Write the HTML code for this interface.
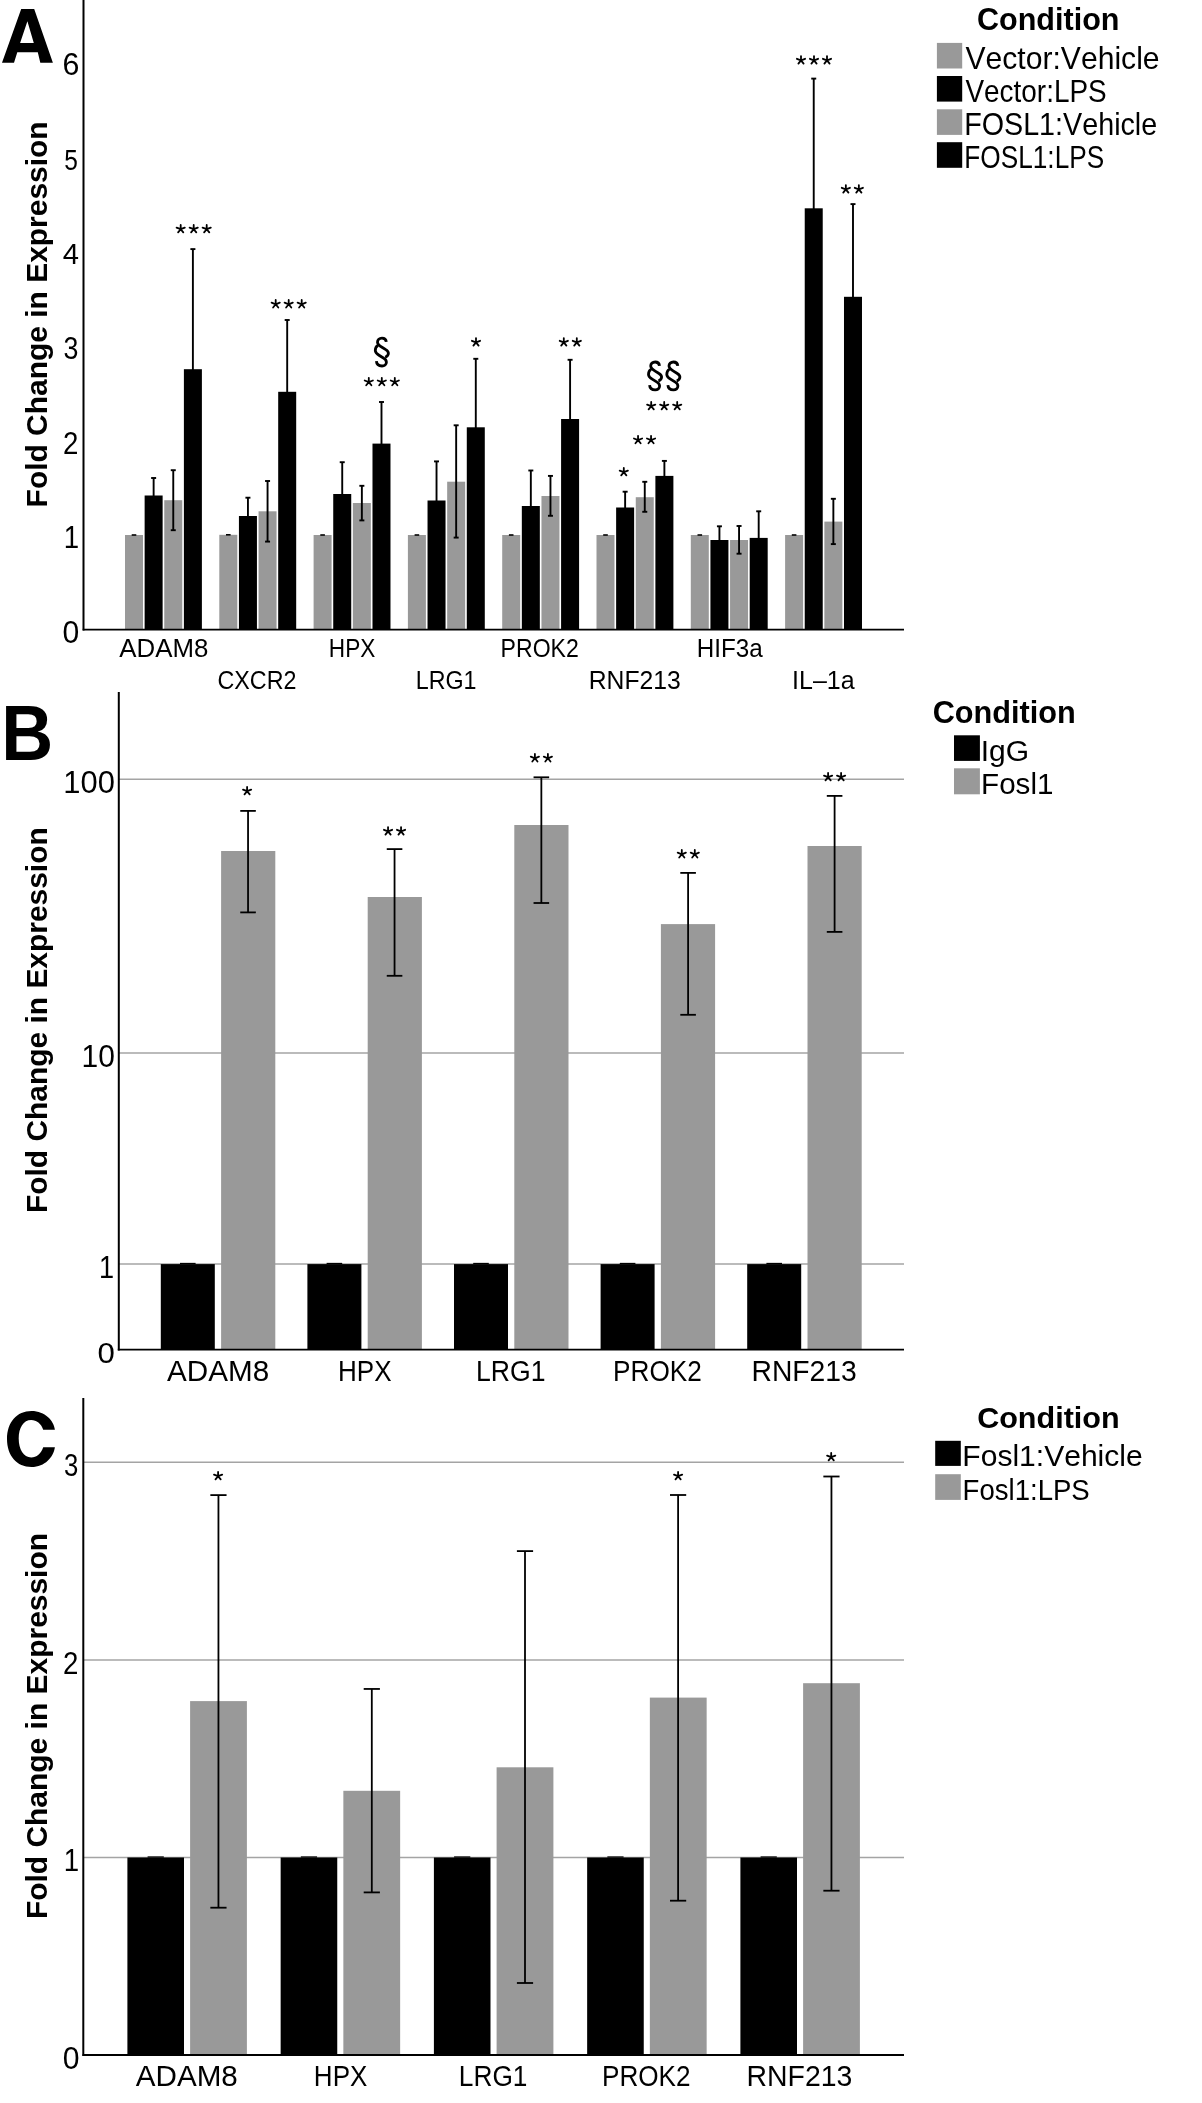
<!DOCTYPE html><html><head><meta charset="utf-8"><title>Fold change</title><style>html,body{margin:0;padding:0;background:#fff;width:1202px;height:2103px;overflow:hidden}text{font-family:"Liberation Sans",sans-serif}</style></head><body><svg width="1202" height="2103" viewBox="0 0 1202 2103" style="display:block;filter:grayscale(1);font-family:'Liberation Sans',sans-serif;font-kerning:none"><rect width="1202" height="2103" fill="#fff"/><rect x="125.00" y="535.00" width="18.00" height="94.00" fill="#999999"/><rect x="144.63" y="495.50" width="18.00" height="133.50" fill="#000"/><rect x="164.26" y="500.20" width="18.00" height="128.80" fill="#999999"/><rect x="183.89" y="369.20" width="18.00" height="259.80" fill="#000"/><path d="M131.70 535.00L136.30 535.00" stroke="#000" stroke-width="1.60"/><path d="M153.63 478.00L153.63 500.50" stroke="#000" stroke-width="1.90"/><path d="M151.13 478.00L156.13 478.00" stroke="#000" stroke-width="1.90"/><path d="M151.13 500.50L156.13 500.50" stroke="#000" stroke-width="1.90"/><path d="M173.26 470.20L173.26 530.20" stroke="#000" stroke-width="1.90"/><path d="M170.76 470.20L175.76 470.20" stroke="#000" stroke-width="1.90"/><path d="M170.76 530.20L175.76 530.20" stroke="#000" stroke-width="1.90"/><path d="M192.89 249.10L192.89 374.20" stroke="#000" stroke-width="1.90"/><path d="M190.39 249.10L195.39 249.10" stroke="#000" stroke-width="1.90"/><path d="M190.39 374.20L195.39 374.20" stroke="#000" stroke-width="1.90"/><rect x="219.30" y="534.80" width="18.00" height="94.20" fill="#999999"/><rect x="238.93" y="516.00" width="18.00" height="113.00" fill="#000"/><rect x="258.56" y="511.30" width="18.00" height="117.70" fill="#999999"/><rect x="278.19" y="391.80" width="18.00" height="237.20" fill="#000"/><path d="M226.00 534.80L230.60 534.80" stroke="#000" stroke-width="1.60"/><path d="M247.93 497.70L247.93 521.00" stroke="#000" stroke-width="1.90"/><path d="M245.43 497.70L250.43 497.70" stroke="#000" stroke-width="1.90"/><path d="M245.43 521.00L250.43 521.00" stroke="#000" stroke-width="1.90"/><path d="M267.56 481.00L267.56 541.60" stroke="#000" stroke-width="1.90"/><path d="M265.06 481.00L270.06 481.00" stroke="#000" stroke-width="1.90"/><path d="M265.06 541.60L270.06 541.60" stroke="#000" stroke-width="1.90"/><path d="M287.19 320.00L287.19 396.80" stroke="#000" stroke-width="1.90"/><path d="M284.69 320.00L289.69 320.00" stroke="#000" stroke-width="1.90"/><path d="M284.69 396.80L289.69 396.80" stroke="#000" stroke-width="1.90"/><rect x="313.60" y="535.00" width="18.00" height="94.00" fill="#999999"/><rect x="333.23" y="494.00" width="18.00" height="135.00" fill="#000"/><rect x="352.86" y="503.00" width="18.00" height="126.00" fill="#999999"/><rect x="372.49" y="443.60" width="18.00" height="185.40" fill="#000"/><path d="M320.30 535.00L324.90 535.00" stroke="#000" stroke-width="1.60"/><path d="M342.23 462.20L342.23 499.00" stroke="#000" stroke-width="1.90"/><path d="M339.73 462.20L344.73 462.20" stroke="#000" stroke-width="1.90"/><path d="M339.73 499.00L344.73 499.00" stroke="#000" stroke-width="1.90"/><path d="M361.86 485.80L361.86 520.40" stroke="#000" stroke-width="1.90"/><path d="M359.36 485.80L364.36 485.80" stroke="#000" stroke-width="1.90"/><path d="M359.36 520.40L364.36 520.40" stroke="#000" stroke-width="1.90"/><path d="M381.49 402.00L381.49 448.60" stroke="#000" stroke-width="1.90"/><path d="M378.99 402.00L383.99 402.00" stroke="#000" stroke-width="1.90"/><path d="M378.99 448.60L383.99 448.60" stroke="#000" stroke-width="1.90"/><rect x="407.90" y="535.00" width="18.00" height="94.00" fill="#999999"/><rect x="427.53" y="500.50" width="18.00" height="128.50" fill="#000"/><rect x="447.16" y="481.70" width="18.00" height="147.30" fill="#999999"/><rect x="466.79" y="427.30" width="18.00" height="201.70" fill="#000"/><path d="M414.60 535.00L419.20 535.00" stroke="#000" stroke-width="1.60"/><path d="M436.53 461.40L436.53 505.50" stroke="#000" stroke-width="1.90"/><path d="M434.03 461.40L439.03 461.40" stroke="#000" stroke-width="1.90"/><path d="M434.03 505.50L439.03 505.50" stroke="#000" stroke-width="1.90"/><path d="M456.16 425.30L456.16 537.60" stroke="#000" stroke-width="1.90"/><path d="M453.66 425.30L458.66 425.30" stroke="#000" stroke-width="1.90"/><path d="M453.66 537.60L458.66 537.60" stroke="#000" stroke-width="1.90"/><path d="M475.79 358.80L475.79 432.30" stroke="#000" stroke-width="1.90"/><path d="M473.29 358.80L478.29 358.80" stroke="#000" stroke-width="1.90"/><path d="M473.29 432.30L478.29 432.30" stroke="#000" stroke-width="1.90"/><rect x="502.20" y="535.00" width="18.00" height="94.00" fill="#999999"/><rect x="521.83" y="506.00" width="18.00" height="123.00" fill="#000"/><rect x="541.46" y="496.00" width="18.00" height="133.00" fill="#999999"/><rect x="561.09" y="419.00" width="18.00" height="210.00" fill="#000"/><path d="M508.90 535.00L513.50 535.00" stroke="#000" stroke-width="1.60"/><path d="M530.83 470.50L530.83 511.00" stroke="#000" stroke-width="1.90"/><path d="M528.33 470.50L533.33 470.50" stroke="#000" stroke-width="1.90"/><path d="M528.33 511.00L533.33 511.00" stroke="#000" stroke-width="1.90"/><path d="M550.46 475.90L550.46 515.80" stroke="#000" stroke-width="1.90"/><path d="M547.96 475.90L552.96 475.90" stroke="#000" stroke-width="1.90"/><path d="M547.96 515.80L552.96 515.80" stroke="#000" stroke-width="1.90"/><path d="M570.09 359.80L570.09 424.00" stroke="#000" stroke-width="1.90"/><path d="M567.59 359.80L572.59 359.80" stroke="#000" stroke-width="1.90"/><path d="M567.59 424.00L572.59 424.00" stroke="#000" stroke-width="1.90"/><rect x="596.50" y="535.00" width="18.00" height="94.00" fill="#999999"/><rect x="616.13" y="507.50" width="18.00" height="121.50" fill="#000"/><rect x="635.76" y="497.20" width="18.00" height="131.80" fill="#999999"/><rect x="655.39" y="475.90" width="18.00" height="153.10" fill="#000"/><path d="M603.20 535.00L607.80 535.00" stroke="#000" stroke-width="1.60"/><path d="M625.13 491.70L625.13 512.50" stroke="#000" stroke-width="1.90"/><path d="M622.63 491.70L627.63 491.70" stroke="#000" stroke-width="1.90"/><path d="M622.63 512.50L627.63 512.50" stroke="#000" stroke-width="1.90"/><path d="M644.76 481.80L644.76 511.80" stroke="#000" stroke-width="1.90"/><path d="M642.26 481.80L647.26 481.80" stroke="#000" stroke-width="1.90"/><path d="M642.26 511.80L647.26 511.80" stroke="#000" stroke-width="1.90"/><path d="M664.39 460.90L664.39 480.90" stroke="#000" stroke-width="1.90"/><path d="M661.89 460.90L666.89 460.90" stroke="#000" stroke-width="1.90"/><path d="M661.89 480.90L666.89 480.90" stroke="#000" stroke-width="1.90"/><rect x="690.80" y="535.00" width="18.00" height="94.00" fill="#999999"/><rect x="710.43" y="540.00" width="18.00" height="89.00" fill="#000"/><rect x="730.06" y="540.00" width="18.00" height="89.00" fill="#999999"/><rect x="749.69" y="537.90" width="18.00" height="91.10" fill="#000"/><path d="M697.50 535.00L702.10 535.00" stroke="#000" stroke-width="1.60"/><path d="M719.43 526.30L719.43 545.00" stroke="#000" stroke-width="1.90"/><path d="M716.93 526.30L721.93 526.30" stroke="#000" stroke-width="1.90"/><path d="M716.93 545.00L721.93 545.00" stroke="#000" stroke-width="1.90"/><path d="M739.06 526.00L739.06 553.70" stroke="#000" stroke-width="1.90"/><path d="M736.56 526.00L741.56 526.00" stroke="#000" stroke-width="1.90"/><path d="M736.56 553.70L741.56 553.70" stroke="#000" stroke-width="1.90"/><path d="M758.69 511.30L758.69 542.90" stroke="#000" stroke-width="1.90"/><path d="M756.19 511.30L761.19 511.30" stroke="#000" stroke-width="1.90"/><path d="M756.19 542.90L761.19 542.90" stroke="#000" stroke-width="1.90"/><rect x="785.10" y="535.00" width="18.00" height="94.00" fill="#999999"/><rect x="804.73" y="208.30" width="18.00" height="420.70" fill="#000"/><rect x="824.36" y="521.60" width="18.00" height="107.40" fill="#999999"/><rect x="843.99" y="296.80" width="18.00" height="332.20" fill="#000"/><path d="M791.80 535.00L796.40 535.00" stroke="#000" stroke-width="1.60"/><path d="M813.73 78.60L813.73 213.30" stroke="#000" stroke-width="1.90"/><path d="M811.23 78.60L816.23 78.60" stroke="#000" stroke-width="1.90"/><path d="M811.23 213.30L816.23 213.30" stroke="#000" stroke-width="1.90"/><path d="M833.36 498.80L833.36 544.10" stroke="#000" stroke-width="1.90"/><path d="M830.86 498.80L835.86 498.80" stroke="#000" stroke-width="1.90"/><path d="M830.86 544.10L835.86 544.10" stroke="#000" stroke-width="1.90"/><path d="M852.99 204.10L852.99 301.80" stroke="#000" stroke-width="1.90"/><path d="M850.49 204.10L855.49 204.10" stroke="#000" stroke-width="1.90"/><path d="M850.49 301.80L855.49 301.80" stroke="#000" stroke-width="1.90"/><path d="M83.50 0.00L83.50 630.50" stroke="#000" stroke-width="2.00"/><path d="M82.70 629.60L904.00 629.60" stroke="#000" stroke-width="1.90"/><path d="M119.00 779.30L904.00 779.30" stroke="#a4a4a4" stroke-width="1.50"/><path d="M119.00 1053.10L904.00 1053.10" stroke="#a4a4a4" stroke-width="1.50"/><path d="M119.00 1264.00L904.00 1264.00" stroke="#a4a4a4" stroke-width="1.50"/><rect x="160.80" y="1264.10" width="54.00" height="85.20" fill="#000"/><path d="M180.00 1263.50L195.60 1263.50" stroke="#000" stroke-width="1.30"/><rect x="221.10" y="851.00" width="54.20" height="498.30" fill="#999999"/><path d="M248.05 810.90L248.05 912.40" stroke="#000" stroke-width="1.80"/><path d="M240.25 810.90L255.85 810.90" stroke="#000" stroke-width="1.80"/><path d="M240.25 912.40L255.85 912.40" stroke="#000" stroke-width="1.80"/><rect x="307.40" y="1264.10" width="54.00" height="85.20" fill="#000"/><path d="M326.60 1263.50L342.20 1263.50" stroke="#000" stroke-width="1.30"/><rect x="367.70" y="897.00" width="54.20" height="452.30" fill="#999999"/><path d="M394.55 849.10L394.55 975.80" stroke="#000" stroke-width="1.80"/><path d="M386.75 849.10L402.35 849.10" stroke="#000" stroke-width="1.80"/><path d="M386.75 975.80L402.35 975.80" stroke="#000" stroke-width="1.80"/><rect x="454.00" y="1264.10" width="54.00" height="85.20" fill="#000"/><path d="M473.20 1263.50L488.80 1263.50" stroke="#000" stroke-width="1.30"/><rect x="514.30" y="825.00" width="54.20" height="524.30" fill="#999999"/><path d="M541.35 777.30L541.35 903.00" stroke="#000" stroke-width="1.80"/><path d="M533.55 777.30L549.15 777.30" stroke="#000" stroke-width="1.80"/><path d="M533.55 903.00L549.15 903.00" stroke="#000" stroke-width="1.80"/><rect x="600.60" y="1264.10" width="54.00" height="85.20" fill="#000"/><path d="M619.80 1263.50L635.40 1263.50" stroke="#000" stroke-width="1.30"/><rect x="660.90" y="924.10" width="54.20" height="425.20" fill="#999999"/><path d="M688.10 872.90L688.10 1014.80" stroke="#000" stroke-width="1.80"/><path d="M680.30 872.90L695.90 872.90" stroke="#000" stroke-width="1.80"/><path d="M680.30 1014.80L695.90 1014.80" stroke="#000" stroke-width="1.80"/><rect x="747.20" y="1264.10" width="54.00" height="85.20" fill="#000"/><path d="M766.40 1263.50L782.00 1263.50" stroke="#000" stroke-width="1.30"/><rect x="807.50" y="846.00" width="54.20" height="503.30" fill="#999999"/><path d="M834.60 795.90L834.60 931.90" stroke="#000" stroke-width="1.80"/><path d="M826.80 795.90L842.40 795.90" stroke="#000" stroke-width="1.80"/><path d="M826.80 931.90L842.40 931.90" stroke="#000" stroke-width="1.80"/><path d="M118.80 692.00L118.80 1350.50" stroke="#000" stroke-width="2.00"/><path d="M117.80 1349.60L904.00 1349.60" stroke="#000" stroke-width="1.90"/><path d="M84.00 1462.20L904.00 1462.20" stroke="#a4a4a4" stroke-width="1.50"/><path d="M84.00 1660.00L904.00 1660.00" stroke="#a4a4a4" stroke-width="1.50"/><path d="M84.00 1857.50L904.00 1857.50" stroke="#a4a4a4" stroke-width="1.50"/><rect x="127.40" y="1857.50" width="56.60" height="197.10" fill="#000"/><path d="M147.60 1857.00L163.80 1857.00" stroke="#000" stroke-width="1.30"/><rect x="190.10" y="1701.10" width="56.80" height="353.50" fill="#999999"/><path d="M218.45 1495.10L218.45 1907.70" stroke="#000" stroke-width="1.80"/><path d="M210.35 1495.10L226.55 1495.10" stroke="#000" stroke-width="1.80"/><path d="M210.35 1907.70L226.55 1907.70" stroke="#000" stroke-width="1.80"/><rect x="280.65" y="1857.50" width="56.60" height="197.10" fill="#000"/><path d="M300.85 1857.00L317.05 1857.00" stroke="#000" stroke-width="1.30"/><rect x="343.35" y="1790.80" width="56.80" height="263.80" fill="#999999"/><path d="M371.80 1688.95L371.80 1892.40" stroke="#000" stroke-width="1.80"/><path d="M363.70 1688.95L379.90 1688.95" stroke="#000" stroke-width="1.80"/><path d="M363.70 1892.40L379.90 1892.40" stroke="#000" stroke-width="1.80"/><rect x="433.90" y="1857.50" width="56.60" height="197.10" fill="#000"/><path d="M454.10 1857.00L470.30 1857.00" stroke="#000" stroke-width="1.30"/><rect x="496.60" y="1767.30" width="56.80" height="287.30" fill="#999999"/><path d="M525.00 1551.10L525.00 1983.00" stroke="#000" stroke-width="1.80"/><path d="M516.90 1551.10L533.10 1551.10" stroke="#000" stroke-width="1.80"/><path d="M516.90 1983.00L533.10 1983.00" stroke="#000" stroke-width="1.80"/><rect x="587.15" y="1857.50" width="56.60" height="197.10" fill="#000"/><path d="M607.35 1857.00L623.55 1857.00" stroke="#000" stroke-width="1.30"/><rect x="649.85" y="1697.60" width="56.80" height="357.00" fill="#999999"/><path d="M678.10 1495.00L678.10 1900.70" stroke="#000" stroke-width="1.80"/><path d="M670.00 1495.00L686.20 1495.00" stroke="#000" stroke-width="1.80"/><path d="M670.00 1900.70L686.20 1900.70" stroke="#000" stroke-width="1.80"/><rect x="740.40" y="1857.50" width="56.60" height="197.10" fill="#000"/><path d="M760.60 1857.00L776.80 1857.00" stroke="#000" stroke-width="1.30"/><rect x="803.10" y="1683.20" width="56.80" height="371.40" fill="#999999"/><path d="M831.45 1476.50L831.45 1890.70" stroke="#000" stroke-width="1.80"/><path d="M823.35 1476.50L839.55 1476.50" stroke="#000" stroke-width="1.80"/><path d="M823.35 1890.70L839.55 1890.70" stroke="#000" stroke-width="1.80"/><path d="M83.30 1398.00L83.30 2056.00" stroke="#000" stroke-width="2.00"/><path d="M82.50 2055.00L904.00 2055.00" stroke="#000" stroke-width="1.90"/><path d="M2.0,62.7 L21.2,9.0 L34.2,9.0 L52.9,62.7 L40.3,62.7 L37.8,52.2 L17.3,52.2 L14.0,62.7 Z M27.4,21.2 L20.1,42.9 L33.8,42.9 Z" fill="#000" fill-rule="evenodd"/><path transform="translate(0 1405)" d="M54.9,24.7 C53.8,15.5 45,6 31.5,6 C16.8,6 7,17.2 7,34 C7,50.8 16.8,62 31.5,62 C45,62 53.5,52 54.9,42.2 L43.2,42.2 C41.2,48.5 36.5,52.4 31.2,52.4 C23.5,52.4 18.7,44.5 18.7,33.6 C18.7,22.7 23.5,15 31.2,15 C36.5,15 41.2,18.5 43.2,24.7 Z" fill="#000"/><rect x="936.90" y="42.90" width="25.30" height="25.60" fill="#999999"/><rect x="936.90" y="76.00" width="25.30" height="25.60" fill="#000"/><rect x="936.90" y="109.30" width="25.30" height="25.60" fill="#999999"/><rect x="936.90" y="142.20" width="25.30" height="25.60" fill="#000"/><rect x="954.00" y="735.30" width="25.90" height="25.60" fill="#000"/><rect x="954.00" y="768.30" width="25.90" height="26.00" fill="#999999"/><rect x="935.20" y="1440.80" width="25.60" height="25.10" fill="#000"/><rect x="935.20" y="1474.20" width="25.60" height="25.70" fill="#999999"/><path d="M180.70 229.20L180.70 224.90M180.70 229.20L176.60 227.60M180.70 229.20L184.80 227.60M180.70 229.20L178.10 232.40M180.70 229.20L183.30 232.40" stroke="#000" stroke-width="1.80" stroke-linecap="round" fill="none"/><path d="M193.70 229.20L193.70 224.90M193.70 229.20L189.60 227.60M193.70 229.20L197.80 227.60M193.70 229.20L191.10 232.40M193.70 229.20L196.30 232.40" stroke="#000" stroke-width="1.80" stroke-linecap="round" fill="none"/><path d="M206.70 229.20L206.70 224.90M206.70 229.20L202.60 227.60M206.70 229.20L210.80 227.60M206.70 229.20L204.10 232.40M206.70 229.20L209.30 232.40" stroke="#000" stroke-width="1.80" stroke-linecap="round" fill="none"/><path d="M275.70 304.30L275.70 300.00M275.70 304.30L271.60 302.70M275.70 304.30L279.80 302.70M275.70 304.30L273.10 307.50M275.70 304.30L278.30 307.50" stroke="#000" stroke-width="1.80" stroke-linecap="round" fill="none"/><path d="M288.70 304.30L288.70 300.00M288.70 304.30L284.60 302.70M288.70 304.30L292.80 302.70M288.70 304.30L286.10 307.50M288.70 304.30L291.30 307.50" stroke="#000" stroke-width="1.80" stroke-linecap="round" fill="none"/><path d="M301.70 304.30L301.70 300.00M301.70 304.30L297.60 302.70M301.70 304.30L305.80 302.70M301.70 304.30L299.10 307.50M301.70 304.30L304.30 307.50" stroke="#000" stroke-width="1.80" stroke-linecap="round" fill="none"/><path d="M368.80 382.10L368.80 377.80M368.80 382.10L364.70 380.50M368.80 382.10L372.90 380.50M368.80 382.10L366.20 385.30M368.80 382.10L371.40 385.30" stroke="#000" stroke-width="1.80" stroke-linecap="round" fill="none"/><path d="M381.80 382.10L381.80 377.80M381.80 382.10L377.70 380.50M381.80 382.10L385.90 380.50M381.80 382.10L379.20 385.30M381.80 382.10L384.40 385.30" stroke="#000" stroke-width="1.80" stroke-linecap="round" fill="none"/><path d="M394.80 382.10L394.80 377.80M394.80 382.10L390.70 380.50M394.80 382.10L398.90 380.50M394.80 382.10L392.20 385.30M394.80 382.10L397.40 385.30" stroke="#000" stroke-width="1.80" stroke-linecap="round" fill="none"/><path d="M476.00 342.40L476.00 338.10M476.00 342.40L471.90 340.80M476.00 342.40L480.10 340.80M476.00 342.40L473.40 345.60M476.00 342.40L478.60 345.60" stroke="#000" stroke-width="1.80" stroke-linecap="round" fill="none"/><path d="M563.80 342.40L563.80 338.10M563.80 342.40L559.70 340.80M563.80 342.40L567.90 340.80M563.80 342.40L561.20 345.60M563.80 342.40L566.40 345.60" stroke="#000" stroke-width="1.80" stroke-linecap="round" fill="none"/><path d="M576.80 342.40L576.80 338.10M576.80 342.40L572.70 340.80M576.80 342.40L580.90 340.80M576.80 342.40L574.20 345.60M576.80 342.40L579.40 345.60" stroke="#000" stroke-width="1.80" stroke-linecap="round" fill="none"/><path d="M623.80 472.20L623.80 467.90M623.80 472.20L619.70 470.60M623.80 472.20L627.90 470.60M623.80 472.20L621.20 475.40M623.80 472.20L626.40 475.40" stroke="#000" stroke-width="1.80" stroke-linecap="round" fill="none"/><path d="M638.05 440.10L638.05 435.80M638.05 440.10L633.95 438.50M638.05 440.10L642.15 438.50M638.05 440.10L635.45 443.30M638.05 440.10L640.65 443.30" stroke="#000" stroke-width="1.80" stroke-linecap="round" fill="none"/><path d="M651.05 440.10L651.05 435.80M651.05 440.10L646.95 438.50M651.05 440.10L655.15 438.50M651.05 440.10L648.45 443.30M651.05 440.10L653.65 443.30" stroke="#000" stroke-width="1.80" stroke-linecap="round" fill="none"/><path d="M651.20 406.20L651.20 401.90M651.20 406.20L647.10 404.60M651.20 406.20L655.30 404.60M651.20 406.20L648.60 409.40M651.20 406.20L653.80 409.40" stroke="#000" stroke-width="1.80" stroke-linecap="round" fill="none"/><path d="M664.20 406.20L664.20 401.90M664.20 406.20L660.10 404.60M664.20 406.20L668.30 404.60M664.20 406.20L661.60 409.40M664.20 406.20L666.80 409.40" stroke="#000" stroke-width="1.80" stroke-linecap="round" fill="none"/><path d="M677.20 406.20L677.20 401.90M677.20 406.20L673.10 404.60M677.20 406.20L681.30 404.60M677.20 406.20L674.60 409.40M677.20 406.20L679.80 409.40" stroke="#000" stroke-width="1.80" stroke-linecap="round" fill="none"/><path d="M801.00 60.40L801.00 56.10M801.00 60.40L796.90 58.80M801.00 60.40L805.10 58.80M801.00 60.40L798.40 63.60M801.00 60.40L803.60 63.60" stroke="#000" stroke-width="1.80" stroke-linecap="round" fill="none"/><path d="M814.00 60.40L814.00 56.10M814.00 60.40L809.90 58.80M814.00 60.40L818.10 58.80M814.00 60.40L811.40 63.60M814.00 60.40L816.60 63.60" stroke="#000" stroke-width="1.80" stroke-linecap="round" fill="none"/><path d="M827.00 60.40L827.00 56.10M827.00 60.40L822.90 58.80M827.00 60.40L831.10 58.80M827.00 60.40L824.40 63.60M827.00 60.40L829.60 63.60" stroke="#000" stroke-width="1.80" stroke-linecap="round" fill="none"/><path d="M845.85 189.40L845.85 185.10M845.85 189.40L841.75 187.80M845.85 189.40L849.95 187.80M845.85 189.40L843.25 192.60M845.85 189.40L848.45 192.60" stroke="#000" stroke-width="1.80" stroke-linecap="round" fill="none"/><path d="M858.85 189.40L858.85 185.10M858.85 189.40L854.75 187.80M858.85 189.40L862.95 187.80M858.85 189.40L856.25 192.60M858.85 189.40L861.45 192.60" stroke="#000" stroke-width="1.80" stroke-linecap="round" fill="none"/><path d="M247.10 791.20L247.10 786.90M247.10 791.20L243.00 789.60M247.10 791.20L251.20 789.60M247.10 791.20L244.50 794.40M247.10 791.20L249.70 794.40" stroke="#000" stroke-width="1.80" stroke-linecap="round" fill="none"/><path d="M388.05 831.40L388.05 827.10M388.05 831.40L383.95 829.80M388.05 831.40L392.15 829.80M388.05 831.40L385.45 834.60M388.05 831.40L390.65 834.60" stroke="#000" stroke-width="1.80" stroke-linecap="round" fill="none"/><path d="M401.05 831.40L401.05 827.10M401.05 831.40L396.95 829.80M401.05 831.40L405.15 829.80M401.05 831.40L398.45 834.60M401.05 831.40L403.65 834.60" stroke="#000" stroke-width="1.80" stroke-linecap="round" fill="none"/><path d="M534.90 758.30L534.90 754.00M534.90 758.30L530.80 756.70M534.90 758.30L539.00 756.70M534.90 758.30L532.30 761.50M534.90 758.30L537.50 761.50" stroke="#000" stroke-width="1.80" stroke-linecap="round" fill="none"/><path d="M547.90 758.30L547.90 754.00M547.90 758.30L543.80 756.70M547.90 758.30L552.00 756.70M547.90 758.30L545.30 761.50M547.90 758.30L550.50 761.50" stroke="#000" stroke-width="1.80" stroke-linecap="round" fill="none"/><path d="M681.80 854.30L681.80 850.00M681.80 854.30L677.70 852.70M681.80 854.30L685.90 852.70M681.80 854.30L679.20 857.50M681.80 854.30L684.40 857.50" stroke="#000" stroke-width="1.80" stroke-linecap="round" fill="none"/><path d="M694.80 854.30L694.80 850.00M694.80 854.30L690.70 852.70M694.80 854.30L698.90 852.70M694.80 854.30L692.20 857.50M694.80 854.30L697.40 857.50" stroke="#000" stroke-width="1.80" stroke-linecap="round" fill="none"/><path d="M828.10 777.20L828.10 772.90M828.10 777.20L824.00 775.60M828.10 777.20L832.20 775.60M828.10 777.20L825.50 780.40M828.10 777.20L830.70 780.40" stroke="#000" stroke-width="1.80" stroke-linecap="round" fill="none"/><path d="M841.10 777.20L841.10 772.90M841.10 777.20L837.00 775.60M841.10 777.20L845.20 775.60M841.10 777.20L838.50 780.40M841.10 777.20L843.70 780.40" stroke="#000" stroke-width="1.80" stroke-linecap="round" fill="none"/><path d="M218.10 1476.20L218.10 1471.90M218.10 1476.20L214.00 1474.60M218.10 1476.20L222.20 1474.60M218.10 1476.20L215.50 1479.40M218.10 1476.20L220.70 1479.40" stroke="#000" stroke-width="1.80" stroke-linecap="round" fill="none"/><path d="M678.10 1476.20L678.10 1471.90M678.10 1476.20L674.00 1474.60M678.10 1476.20L682.20 1474.60M678.10 1476.20L675.50 1479.40M678.10 1476.20L680.70 1479.40" stroke="#000" stroke-width="1.80" stroke-linecap="round" fill="none"/><path d="M831.20 1457.20L831.20 1452.90M831.20 1457.20L827.10 1455.60M831.20 1457.20L835.30 1455.60M831.20 1457.20L828.60 1460.40M831.20 1457.20L833.80 1460.40" stroke="#000" stroke-width="1.80" stroke-linecap="round" fill="none"/><path transform="translate(370.00 334.00)" d="M16.3,7.9 C16.0,5.3 14.1,4.1 12,4.1 C9.3,4.1 7.5,5.8 7.5,8.2 C7.5,10.5 9.5,11.7 12,13.2 L15.8,15.6 C17.5,16.6 18.4,17.6 18.4,19.2 C18.4,21 17.2,22.3 15.3,23.2 M7.8,11.5 C6.1,12.5 5.3,14.3 5.3,16.5 C5.3,18.6 6.8,19.8 9,21.2 L13.8,24.2 C15.7,25.3 16.4,26.5 16.4,28.2 C16.4,30.5 14.5,32 12,32 C8.8,32 6.6,30.2 6.4,27.2" stroke="#000" stroke-width="2.8" fill="none"/><path transform="translate(643.20 357.90)" d="M16.3,7.9 C16.0,5.3 14.1,4.1 12,4.1 C9.3,4.1 7.5,5.8 7.5,8.2 C7.5,10.5 9.5,11.7 12,13.2 L15.8,15.6 C17.5,16.6 18.4,17.6 18.4,19.2 C18.4,21 17.2,22.3 15.3,23.2 M7.8,11.5 C6.1,12.5 5.3,14.3 5.3,16.5 C5.3,18.6 6.8,19.8 9,21.2 L13.8,24.2 C15.7,25.3 16.4,26.5 16.4,28.2 C16.4,30.5 14.5,32 12,32 C8.8,32 6.6,30.2 6.4,27.2" stroke="#000" stroke-width="2.8" fill="none"/><path transform="translate(661.50 357.90)" d="M16.3,7.9 C16.0,5.3 14.1,4.1 12,4.1 C9.3,4.1 7.5,5.8 7.5,8.2 C7.5,10.5 9.5,11.7 12,13.2 L15.8,15.6 C17.5,16.6 18.4,17.6 18.4,19.2 C18.4,21 17.2,22.3 15.3,23.2 M7.8,11.5 C6.1,12.5 5.3,14.3 5.3,16.5 C5.3,18.6 6.8,19.8 9,21.2 L13.8,24.2 C15.7,25.3 16.4,26.5 16.4,28.2 C16.4,30.5 14.5,32 12,32 C8.8,32 6.6,30.2 6.4,27.2" stroke="#000" stroke-width="2.8" fill="none"/><text transform="translate(1.18 759.90) scale(0.9188 1)" font-size="78.34" font-weight="bold" fill="#000">B</text><text transform="translate(62.46 75.49) scale(0.9590 1)" font-size="31.64" font-weight="normal">6</text><text transform="translate(64.32 169.76) scale(0.8110 1)" font-size="30.17" font-weight="normal">5</text><text transform="translate(62.63 264.00) scale(0.9936 1)" font-size="29.36" font-weight="normal">4</text><text transform="translate(63.58 359.10) scale(0.8620 1)" font-size="31.07" font-weight="normal">3</text><text transform="translate(62.91 454.30) scale(0.8660 1)" font-size="31.94" font-weight="normal">2</text><text transform="translate(63.80 548.20) scale(0.8915 1)" font-size="30.96" font-weight="normal">1</text><text transform="translate(62.62 643.09) scale(0.9607 1)" font-size="31.36" font-weight="normal">0</text><text transform="translate(63.35 792.70) scale(1.0037 1)" font-size="30.79" font-weight="normal">100</text><text transform="translate(81.62 1066.70) scale(0.9739 1)" font-size="30.79" font-weight="normal">10</text><text transform="translate(99.03 1278.00) scale(0.8486 1)" font-size="31.98" font-weight="normal">1</text><text transform="translate(97.58 1363.00) scale(1.0312 1)" font-size="30.23" font-weight="normal">0</text><text transform="translate(63.92 1476.19) scale(0.8133 1)" font-size="31.64" font-weight="normal">3</text><text transform="translate(62.91 1674.10) scale(0.8660 1)" font-size="31.94" font-weight="normal">2</text><text transform="translate(63.80 1871.10) scale(0.8915 1)" font-size="30.96" font-weight="normal">1</text><text transform="translate(62.72 2069.00) scale(0.9651 1)" font-size="31.21" font-weight="normal">0</text><text transform="translate(47.10 507.40) rotate(-90) scale(0.9911 1)" font-size="30.23" font-weight="bold">Fold Change in Expression</text><text transform="translate(47.00 1213.00) rotate(-90) scale(0.9949 1)" font-size="30.09" font-weight="bold">Fold Change in Expression</text><text transform="translate(47.00 1919.10) rotate(-90) scale(0.9959 1)" font-size="30.09" font-weight="bold">Fold Change in Expression</text><text transform="translate(119.25 657.30) scale(0.9827 1)" font-size="26.31" font-weight="normal" fill="#000">ADAM8</text><text transform="translate(217.52 689.00) scale(0.8903 1)" font-size="26.16" font-weight="normal" fill="#000">CXCR2</text><text transform="translate(328.84 657.30) scale(0.8602 1)" font-size="26.31" font-weight="normal" fill="#000">HPX</text><text transform="translate(415.69 689.00) scale(0.8903 1)" font-size="26.16" font-weight="normal" fill="#000">LRG1</text><text transform="translate(500.61 657.30) scale(0.8774 1)" font-size="26.31" font-weight="normal" fill="#000">PROK2</text><text transform="translate(588.77 689.00) scale(0.9455 1)" font-size="26.16" font-weight="normal" fill="#000">RNF213</text><text transform="translate(696.71 657.30) scale(0.9211 1)" font-size="26.31" font-weight="normal" fill="#000">HIF3a</text><text transform="translate(792.09 689.00) scale(0.9547 1)" font-size="26.16" font-weight="normal" fill="#000">IL–1a</text><text transform="translate(166.94 1381.00) scale(0.9911 1)" font-size="29.94" font-weight="normal" fill="#000">ADAM8</text><text transform="translate(338.07 1381.00) scale(0.8687 1)" font-size="29.94" font-weight="normal" fill="#000">HPX</text><text transform="translate(476.02 1381.00) scale(0.8883 1)" font-size="29.94" font-weight="normal" fill="#000">LRG1</text><text transform="translate(613.05 1381.00) scale(0.8745 1)" font-size="29.94" font-weight="normal" fill="#000">PROK2</text><text transform="translate(751.48 1381.00) scale(0.9450 1)" font-size="29.94" font-weight="normal" fill="#000">RNF213</text><text transform="translate(135.74 2086.20) scale(0.9999 1)" font-size="29.65" font-weight="normal" fill="#000">ADAM8</text><text transform="translate(313.87 2086.20) scale(0.8772 1)" font-size="29.65" font-weight="normal" fill="#000">HPX</text><text transform="translate(458.84 2086.20) scale(0.8861 1)" font-size="29.65" font-weight="normal" fill="#000">LRG1</text><text transform="translate(601.96 2086.20) scale(0.8810 1)" font-size="29.65" font-weight="normal" fill="#000">PROK2</text><text transform="translate(746.57 2086.20) scale(0.9590 1)" font-size="29.65" font-weight="normal" fill="#000">RNF213</text><text transform="translate(976.95 30.00) scale(0.9963 1)" font-size="30.67" font-weight="bold" fill="#000">Condition</text><text transform="translate(965.47 68.50) scale(0.9676 1)" font-size="31.11" font-weight="normal" fill="#000">Vector:Vehicle</text><text transform="translate(965.48 101.60) scale(0.8975 1)" font-size="31.11" font-weight="normal" fill="#000">Vector:LPS</text><text transform="translate(964.14 134.90) scale(0.9408 1)" font-size="30.52" font-weight="normal" fill="#000">FOSL1:Vehicle</text><text transform="translate(964.35 167.80) scale(0.8587 1)" font-size="30.52" font-weight="normal" fill="#000">FOSL1:LPS</text><text transform="translate(932.64 722.70) scale(0.9912 1)" font-size="30.96" font-weight="bold" fill="#000">Condition</text><text transform="translate(980.73 760.90) scale(1.0032 1)" font-size="29.94" font-weight="normal" fill="#000">IgG</text><text transform="translate(981.07 794.40) scale(0.9885 1)" font-size="29.94" font-weight="normal" fill="#000">Fosl1</text><text transform="translate(977.15 1427.70) scale(1.0205 1)" font-size="29.94" font-weight="bold" fill="#000">Condition</text><text transform="translate(962.33 1465.90) scale(1.0292 1)" font-size="29.22" font-weight="normal" fill="#000">Fosl1:Vehicle</text><text transform="translate(962.54 1499.90) scale(0.9440 1)" font-size="29.22" font-weight="normal" fill="#000">Fosl1:LPS</text></svg></body></html>
